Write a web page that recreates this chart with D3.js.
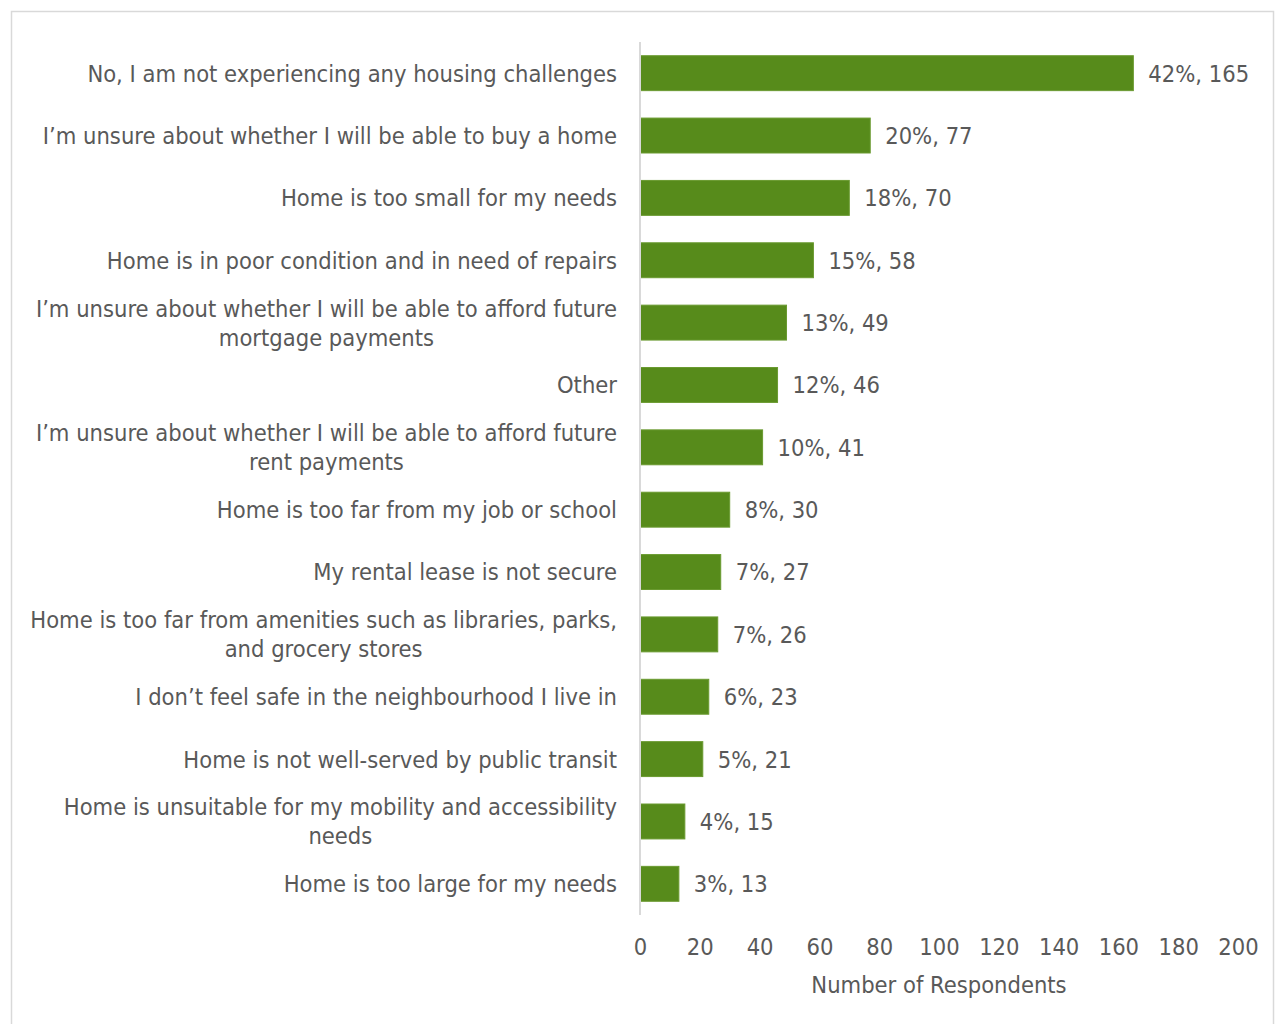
<!DOCTYPE html>
<html>
<head>
<meta charset="utf-8">
<script src="https://cdn.jsdelivr.net/npm/d3@7"></script>
<style>
  html, body { margin: 0; padding: 0; background: #ffffff; }
  svg { display: block; }
  text { font-family: "DejaVu Sans Condensed", "DejaVu Sans", sans-serif; fill: #595959; }
</style>
</head>
<body>
<svg id="chart" width="1275" height="1024"></svg>
<script>
// Housing challenges reported by respondents (multi-line labels split on "\n")
const categories = [
  "No, I am not experiencing any housing challenges",
  "I\u2019m unsure about whether I will be able to buy a home",
  "Home is too small for my needs",
  "Home is in poor condition and in need of repairs",
  "I\u2019m unsure about whether I will be able to afford future\nmortgage payments",
  "Other",
  "I\u2019m unsure about whether I will be able to afford future\nrent payments",
  "Home is too far from my job or school",
  "My rental lease is not secure",
  "Home is too far from amenities such as libraries, parks,\nand grocery stores",
  "I don\u2019t feel safe in the neighbourhood I live in",
  "Home is not well-served by public transit",
  "Home is unsuitable for my mobility and accessibility\nneeds",
  "Home is too large for my needs"
];
const counts   = [165, 77, 70, 58, 49, 46, 41, 30, 27, 26, 23, 21, 15, 13];
const percents = [42, 20, 18, 15, 13, 12, 10, 8, 7, 7, 6, 5, 4, 3];
const xTicks   = [0, 20, 40, 60, 80, 100, 120, 140, 160, 180, 200];
const xTitle   = "Number of Respondents";

const rows = categories.map((c, i) => ({ label: c, count: counts[i], pct: percents[i] }));

const svg = d3.select("#chart");
const W = 1275, H = 1024;
const plot = { left: 640, right: 1238, top: 42, bottom: 915 };
const fontSize = 23.5;

// chart frame
svg.append("rect")
  .attr("x", 11.5).attr("y", 11.5)
  .attr("width", W - 13).attr("height", H + 10)
  .attr("fill", "none").attr("stroke", "#d9d9d9").attr("stroke-width", 1.5);

const x = d3.scaleLinear().domain([0, 200]).range([plot.left, plot.right]);
const y = d3.scaleBand()
  .domain(rows.map((d, i) => i))
  .range([plot.top, plot.bottom])
  .paddingInner(0.44)
  .paddingOuter(0.22);

// bars
svg.append("g").selectAll("rect")
  .data(rows)
  .join("rect")
  .attr("x", x(0))
  .attr("y", (d, i) => y(i))
  .attr("width", d => x(d.count) - x(0))
  .attr("height", y.bandwidth())
  .attr("fill", "#578b1b")
  .attr("stroke", "#6a9a30")
  .attr("stroke-width", 1);

// vertical category axis line
svg.append("line")
  .attr("x1", x(0)).attr("x2", x(0))
  .attr("y1", plot.top).attr("y2", plot.bottom)
  .attr("stroke", "#d9d9d9").attr("stroke-width", 2);

// category labels: block right-aligned to the axis, lines centred within the block
const labelRight = 617;
const lineH = 29;
const labelG = svg.append("g");
rows.forEach((d, i) => {
  const lines = d.label.split("\n");
  const cy = y(i) + y.bandwidth() / 2;
  const t = labelG.append("text")
    .attr("font-size", fontSize)
    .attr("text-anchor", "middle");
  const tspans = lines.map((ln, k) => t.append("tspan")
    .attr("y", cy + (k - (lines.length - 1) / 2) * lineH)
    .attr("dy", "0.36em")
    .text(ln));
  const widths = tspans.map(s => s.node().getComputedTextLength());
  const blockW = d3.max(widths);
  tspans.forEach(s => s.attr("x", labelRight - blockW / 2));
});

// value labels
svg.append("g").selectAll("text")
  .data(rows)
  .join("text")
  .attr("x", d => x(d.count) + 15)
  .attr("y", (d, i) => y(i) + y.bandwidth() / 2)
  .attr("dy", "0.36em")
  .attr("font-size", fontSize)
  .text(d => `${d.pct}%, ${d.count}`);

// x axis tick labels (no line, no tick marks)
const xAxis = d3.axisBottom(x).tickValues(xTicks).tickSize(0).tickPadding(0);
const gx = svg.append("g")
  .attr("transform", `translate(0, ${plot.bottom + 23})`)
  .call(xAxis);
gx.select(".domain").remove();
gx.selectAll("text")
  .attr("font-size", fontSize)
  .attr("font-family", null)
  .attr("fill", "#595959");

// x axis title
svg.append("text")
  .attr("x", (plot.left + plot.right) / 2)
  .attr("y", 985)
  .attr("dy", "0.36em")
  .attr("text-anchor", "middle")
  .attr("font-size", fontSize)
  .text(xTitle);
</script>
</body>
</html>
